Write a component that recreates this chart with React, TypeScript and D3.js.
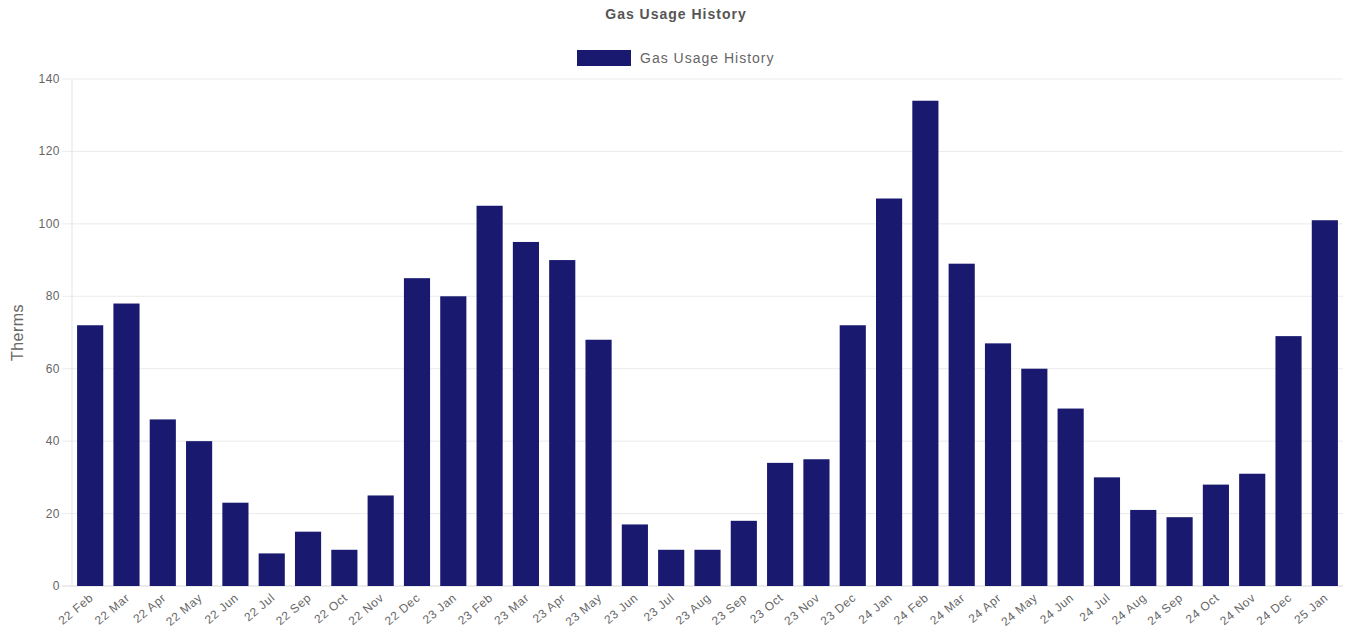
import React from 'react'
import * as d3 from 'd3'

const months = [
  '22 Feb', '22 Mar', '22 Apr', '22 May', '22 Jun', '22 Jul', '22 Sep', '22 Oct', '22 Nov', '22 Dec',
  '23 Jan', '23 Feb', '23 Mar', '23 Apr', '23 May', '23 Jun', '23 Jul', '23 Aug', '23 Sep', '23 Oct',
  '23 Nov', '23 Dec', '24 Jan', '24 Feb', '24 Mar', '24 Apr', '24 May', '24 Jun', '24 Jul', '24 Aug',
  '24 Sep', '24 Oct', '24 Nov', '24 Dec', '25 Jan',
]
const therms = [
  72, 78, 46, 40, 23, 9, 15, 10, 25, 85,
  80, 105, 95, 90, 68, 17, 10, 10, 18, 34,
  35, 72, 107, 134, 89, 67, 60, 49, 30, 21,
  19, 28, 31, 69, 101,
]
const yTicks = [0, 20, 40, 60, 80, 100, 120, 140]

const W = 1350
const H = 635
const left = 72
const right = 1343
const top = 79
const bottom = 586
const font = "'Liberation Sans', Arial, sans-serif"
const barColor = '#191970'
const textColor = '#666'

const App = () => {
  const x = d3.scaleBand<string>().domain(months).range([left, right]).paddingInner(0.28).paddingOuter(0.14)
  const y = d3.scaleLinear().domain([0, 140]).range([bottom, top])

  return (
    <svg width={W} height={H} style={{ position: 'absolute', left: 0, top: 0 }} fontFamily={font}>
      <text x={676} y={19} textAnchor="middle" fontSize={14} fontWeight="bold" letterSpacing={1} fill="#555">
        Gas Usage History
      </text>
      <rect x={577} y={50} width={54} height={16} fill={barColor} />
      <text x={640} y={63} fontSize={14} letterSpacing={1} fill={textColor}>Gas Usage History</text>

      {yTicks.map((t) => (
        <g key={t}>
          <line x1={left - 10} x2={right} y1={y(t)} y2={y(t)} stroke={t === 0 ? '#d8d8d8' : '#ebebeb'} />
          <text x={left - 12} y={y(t) + 4} textAnchor="end" fontSize={12} letterSpacing={0.5} fill={textColor}>{t}</text>
        </g>
      ))}
      <line x1={left} x2={left} y1={top} y2={bottom} stroke="#e3e3e3" />

      <text
        transform={`translate(23,${(top + bottom) / 2}) rotate(-90)`}
        textAnchor="middle"
        fontSize={16}
        letterSpacing={0.5}
        fill={textColor}
      >
        Therms
      </text>

      {months.map((m, i) => (
        <rect
          key={m}
          x={x(m)}
          y={y(therms[i])}
          width={x.bandwidth()}
          height={bottom - y(therms[i])}
          fill={barColor}
        />
      ))}

      {months.map((m) => {
        const cx = (x(m) ?? 0) + x.bandwidth() / 2
        return (
          <text
            key={m}
            transform={`translate(${cx + 4},${bottom + 13}) rotate(-40)`}
            textAnchor="end"
            fontSize={12}
            letterSpacing={0.6}
            fill={textColor}
          >
            {m}
          </text>
        )
      })}
    </svg>
  )
}

export default App
